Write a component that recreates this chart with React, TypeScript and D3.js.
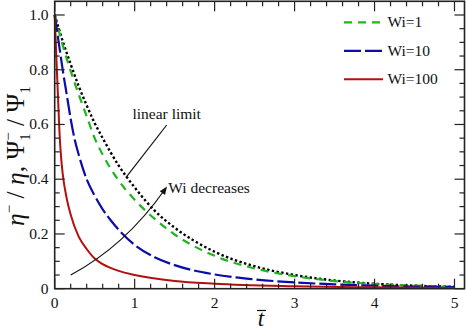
import * as d3 from "d3";

// time axis samples (t-bar) and curves
const tLinear = [0, 0.1, 0.2, 0.3, 0.4, 0.5, 0.6, 0.8, 1.0, 1.25, 1.5, 2.0, 2.5, 3.0, 3.5, 4.0, 4.5, 5.0];
const linearLimit = [1.0, 0.905, 0.82, 0.74, 0.67, 0.605, 0.55, 0.45, 0.37, 0.285, 0.223, 0.135, 0.082, 0.05, 0.03, 0.018, 0.011, 0.007];

const tWi1 = [0, 0.1, 0.2, 0.3, 0.4, 0.5, 0.6, 0.8, 1.0, 1.25, 1.5, 2.0, 2.5, 3.0, 3.5, 4.0, 4.5, 5.0];
const wi1 = [1.0, 0.89, 0.795, 0.71, 0.63, 0.55, 0.49, 0.395, 0.325, 0.255, 0.198, 0.12, 0.074, 0.046, 0.028, 0.017, 0.011, 0.006];

const tWi10 = [0, 0.05, 0.1, 0.15, 0.2, 0.25, 0.3, 0.4, 0.5, 0.6, 0.7, 0.85, 1.0, 1.25, 1.5, 2.0, 2.5, 3.0, 3.5, 4.0, 4.5, 5.0];
const wi10 = [1.0, 0.9, 0.8, 0.71, 0.62, 0.545, 0.49, 0.4, 0.34, 0.29, 0.25, 0.2, 0.16, 0.115, 0.086, 0.052, 0.034, 0.023, 0.016, 0.011, 0.008, 0.006];

const tWi100 = [0, 0.02, 0.04, 0.06, 0.08, 0.1, 0.15, 0.2, 0.3, 0.4, 0.5, 0.6, 0.8, 1.0, 1.5, 2.0, 3.0, 4.0, 5.0];
const wi100 = [1.0, 0.85, 0.71, 0.57, 0.48, 0.42, 0.33, 0.27, 0.19, 0.145, 0.11, 0.09, 0.065, 0.05, 0.028, 0.018, 0.009, 0.005, 0.003];

const xTicks = [0, 1, 2, 3, 4, 5];
const yTicks = [0, 0.2, 0.4, 0.6, 0.8, 1.0];
const yTickLabels = ["0", "0.2", "0.4", "0.6", "0.8", "1.0"];

const legendLabels = ["Wi=1", "Wi=10", "Wi=100"];

const W = 467;
const H = 331;
const FONT = '"Liberation Serif", "Times New Roman", Times, "DejaVu Serif", serif';

const x = d3.scaleLinear().domain([0, 5.125]).range([54.7, 464.5]);
const y = d3.scaleLinear().domain([0, 1.05]).range([288.7, 1.3]);

const series = [
  { t: tWi1, v: wi1, color: "#1fb41f", dash: "8,6", width: 2.2 },
  { t: tWi10, v: wi10, color: "#0c0ca8", dash: "17,4", width: 2.2 },
  { t: tWi100, v: wi100, color: "#b30f0f", dash: "none", width: 2 },
];

export default function App() {
  const line = d3
    .line<[number, number]>()
    .x((d) => x(d[0]))
    .y((d) => y(d[1]))
    .curve(d3.curveMonotoneX);

  const [x0, x1] = x.range();
  const [y0, y1] = y.range();

  const minorX = d3.range(0, 5.125, 0.2).filter((v) => Math.abs(v - Math.round(v)) > 1e-6);
  const minorY = d3.range(0, 1.05, 0.05).filter((v) => Math.abs(v * 5 - Math.round(v * 5)) > 1e-6);

  const linePath = (t: number[], v: number[]) => line(t.map((d, i) => [d, v[i]]) as [number, number][]) || "";

  // curved arrow "Wi decreases"
  const arrowStart: [number, number] = [70.7, 275];
  const arrowCtrl: [number, number] = [125, 246];
  const arrowEnd: [number, number] = [167, 186.5];
  const ang = Math.atan2(arrowEnd[1] - arrowCtrl[1], arrowEnd[0] - arrowCtrl[0]);
  const ah = 8;
  const aw = 3.2;
  const head = [
    arrowEnd,
    [arrowEnd[0] - ah * Math.cos(ang) + aw * Math.sin(ang), arrowEnd[1] - ah * Math.sin(ang) - aw * Math.cos(ang)],
    [arrowEnd[0] - ah * Math.cos(ang) - aw * Math.sin(ang), arrowEnd[1] - ah * Math.sin(ang) + aw * Math.cos(ang)],
  ];

  return (
    <svg
      width={W}
      height={H}
      style={{ position: "absolute", left: 0, top: 0, background: "#fff", fontFamily: FONT }}
    >
      <rect width={W} height={H} fill="#fff" />

      {/* curves */}
      <path d={linePath(tLinear, linearLimit)} fill="none" stroke="#000" strokeWidth={2.4} strokeDasharray="2.4,2.4" />
      {series.map((s, i) => (
        <path
          key={i}
          d={linePath(s.t, s.v)}
          fill="none"
          stroke={s.color}
          strokeWidth={s.width}
          strokeDasharray={s.dash}
        />
      ))}

      {/* ticks, all four sides, inward */}
      <g stroke="#222" strokeWidth={1.2}>
        {xTicks.map((t) => (
          <g key={"xm" + t}>
            <line x1={x(t)} x2={x(t)} y1={y0} y2={y0 - 10} />
            <line x1={x(t)} x2={x(t)} y1={y1} y2={y1 + 10} />
          </g>
        ))}
        {minorX.map((t) => (
          <g key={"xn" + t}>
            <line x1={x(t)} x2={x(t)} y1={y0} y2={y0 - 5} />
            <line x1={x(t)} x2={x(t)} y1={y1} y2={y1 + 5} />
          </g>
        ))}
        {yTicks.map((v) => (
          <g key={"ym" + v}>
            <line x1={x0} x2={x0 + 10} y1={y(v)} y2={y(v)} />
            <line x1={x1} x2={x1 - 10} y1={y(v)} y2={y(v)} />
          </g>
        ))}
        {minorY.map((v) => (
          <g key={"yn" + v}>
            <line x1={x0} x2={x0 + 5} y1={y(v)} y2={y(v)} />
            <line x1={x1} x2={x1 - 5} y1={y(v)} y2={y(v)} />
          </g>
        ))}
      </g>
      <rect x={x0} y={y1} width={x1 - x0} height={y0 - y1} fill="none" stroke="#222" strokeWidth={1.6} />

      {/* tick labels */}
      <g fontSize={15.5} fill="#111" style={{ fontFamily: FONT }}>
        {xTicks.map((t) => (
          <text key={"xl" + t} x={x(t)} y={308} textAnchor="middle">
            {t}
          </text>
        ))}
        {yTicks.map((v, i) => (
          <text key={"yl" + v} x={48.5} y={y(v) + 5} textAnchor="end">
            {yTickLabels[i]}
          </text>
        ))}
      </g>

      {/* axis titles */}
      <g transform="translate(261,326)">
        <text x={0} y={0} textAnchor="middle" fontSize={23} fontStyle="italic" fill="#111" style={{ fontFamily: FONT }}>
          t
        </text>
        <line x1={-4} x2={5} y1={-15.5} y2={-15.5} stroke="#111" strokeWidth={1.2} />
      </g>
      <text
        transform="translate(23.5,156) rotate(-90)"
        textAnchor="middle"
        fontSize={25.5}
        fill="#111"
        style={{ fontFamily: FONT }}
      >
        <tspan fontStyle="italic">η</tspan>
        <tspan fontSize={15} dy={-10}>−</tspan>
        <tspan dy={10}> / </tspan>
        <tspan fontStyle="italic">η</tspan>
        <tspan>, Ψ</tspan>
        <tspan fontSize={15} dy={6}>1</tspan>
        <tspan fontSize={15} dx={-7.5} dy={-17}>−</tspan>
        <tspan dy={11}> / Ψ</tspan>
        <tspan fontSize={15} dy={6}>1</tspan>
      </text>

      {/* legend */}
      {series.map((s, i) => {
        const ly = 22.3 + i * 28.5;
        return (
          <g key={"lg" + i}>
            <line x1={344} x2={383} y1={ly} y2={ly} stroke={s.color} strokeWidth={s.width} strokeDasharray={s.dash} />
            <text x={387.5} y={ly + 5} fontSize={15.5} fill="#111" style={{ fontFamily: FONT }}>
              {legendLabels[i]}
            </text>
          </g>
        );
      })}

      {/* annotations */}
      <text x={166.7} y={119.3} textAnchor="middle" fontSize={15.5} fill="#111" style={{ fontFamily: FONT }}>
        linear limit
      </text>
      <line x1={166.7} y1={125} x2={126} y2={177.3} stroke="#111" strokeWidth={1.2} />

      <path
        d={`M${arrowStart[0]},${arrowStart[1]} Q${arrowCtrl[0]},${arrowCtrl[1]} ${arrowEnd[0] - 4 * Math.cos(ang)},${arrowEnd[1] - 4 * Math.sin(ang)}`}
        fill="none"
        stroke="#111"
        strokeWidth={1.2}
      />
      <polygon points={head.map((p) => p.join(",")).join(" ")} fill="#111" />
      <text x={168.3} y={193.3} fontSize={15.5} fill="#111" style={{ fontFamily: FONT }}>
        Wi decreases
      </text>
    </svg>
  );
}
